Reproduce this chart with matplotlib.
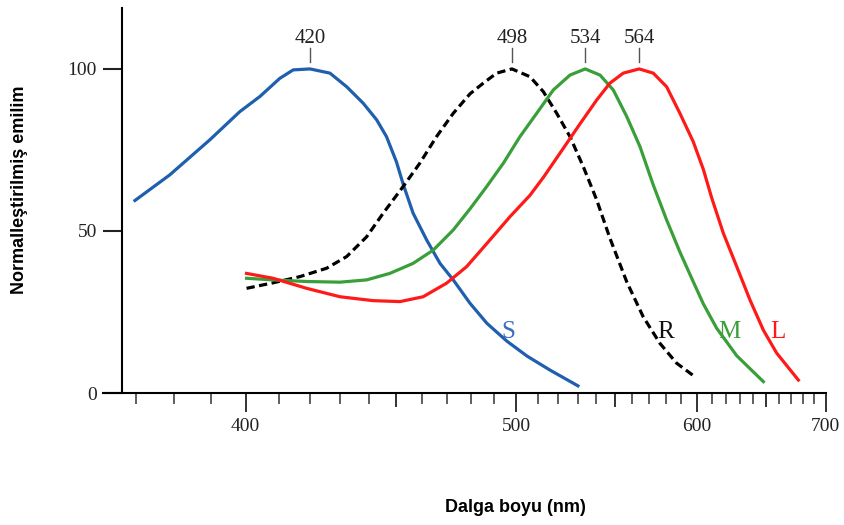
import numpy as np
import matplotlib
matplotlib.use("Agg")
import matplotlib.pyplot as plt

# S koni (mavi)
s_nm = [369.8, 378.8, 389.7, 398.3, 404.3, 410.4, 414.6, 420.0, 426.6, 432.3, 438.1,
        442.9, 446.5, 450.2, 452.7, 456.5, 461.8, 467.1, 472.5, 479.5, 486.8, 495.7,
        505.0, 516.0, 530.2]
s_val = [59.4, 67.3, 78.1, 86.8, 91.5, 97.1, 99.7, 100.0, 98.7, 94.5, 89.4,
         84.3, 79.1, 71.3, 64.5, 55.5, 47.2, 40.0, 34.9, 27.7, 21.5, 16.0,
         11.4, 7.1, 2.2]

# Rodopsin (kesikli)
r_nm = [400.3, 408.3, 416.7, 425.5, 432.3, 439.3, 445.3, 452.7, 459.1, 465.7, 472.5,
        479.5, 485.2, 491.1, 498.0, 506.4, 512.8, 519.4, 526.1, 533.0, 540.1, 547.3,
        556.8, 566.4, 576.5, 586.9, 598.8]
r_val = [32.3, 34.0, 35.9, 38.5, 42.1, 48.2, 55.5, 63.7, 70.9, 79.1, 86.3,
         92.3, 95.6, 98.7, 100.0, 97.6, 93.0, 86.3, 79.1, 69.8, 59.6, 47.8,
         34.3, 23.5, 15.3, 9.2, 5.0]

# M koni (yeşil)
m_nm = [400.3, 408.3, 418.9, 430.0, 439.3, 447.7, 456.5, 464.4, 472.5, 479.5, 486.7,
        494.1, 501.7, 509.6, 517.7, 526.1, 534.0, 541.9, 549.2, 556.8, 564.5, 572.4,
        580.6, 589.0, 597.7, 604.4, 613.5, 627.8, 647.8]
m_val = [35.4, 34.9, 34.4, 34.2, 34.9, 36.9, 40.0, 44.1, 50.3, 56.8, 63.7,
         70.9, 79.1, 86.3, 93.5, 98.1, 100.0, 98.1, 93.5, 85.3, 76.0, 64.2,
         53.4, 43.5, 34.3, 27.5, 20.0, 11.5, 3.5]

# L koni (kırmızı)
l_nm = [400.3, 408.3, 418.9, 430.0, 441.6, 451.5, 460.4, 469.8, 478.1, 488.1, 497.1,
        506.4, 512.8, 522.7, 531.2, 540.1, 547.3, 554.8, 564.0, 572.4, 580.6, 589.0,
        597.7, 604.4, 610.1, 618.2, 627.8, 637.6, 647.8, 658.3, 676.1]
l_val = [36.9, 35.4, 32.3, 29.7, 28.5, 28.2, 29.7, 33.9, 39.0, 47.2, 54.4,
         61.0, 66.5, 75.5, 83.0, 90.4, 95.6, 98.7, 100.0, 98.7, 94.5, 86.3,
         77.5, 69.0, 60.2, 49.3, 39.0, 28.7, 19.4, 12.3, 4.0]

peaks = [420, 498, 534, 564]
curve_labels = ["S", "R", "M", "L"]
label_nm = [496.2, 580.1, 622.2, 659.4]
label_y = 16.9

blue = "#1f5fae"
green = "#3a9f3a"
red = "#ff1a1a"
label_colors = ["#3a6cbf", "#111111", green, red]


def fwd(x):
    x = np.asarray(x, dtype=float)
    with np.errstate(divide="ignore"):
        return -1.0 / x


fig = plt.figure(figsize=(8.45, 5.25), dpi=100)
ax = fig.add_axes([103 / 845, 132 / 525, 722.7 / 845, 385 / 525])
ax.set_xscale("function", functions=(fwd, fwd))

lw = 2.3
ax.plot(s_nm, s_val, color=blue, lw=lw, solid_joinstyle="round")
ax.plot(r_nm, r_val, color="black", lw=lw, linestyle=(0, (2.6, 1.4)))
ax.plot(m_nm, m_val, color=green, lw=lw, solid_joinstyle="round")
ax.plot(l_nm, l_val, color=red, lw=lw, solid_joinstyle="round")

ax.set_xlim(361.9, 700)
ax.set_ylim(0, 118.8)

serif = "Liberation Serif"
for p in peaks:
    ax.plot([p, p], [102.2, 106.4], color="#555555", lw=1, clip_on=False)
    ax.text(p, 107.9, str(p), ha="center", va="baseline", fontsize=15,
            family=serif, color="#222222")

for txt, x, c in zip(curve_labels, label_nm, label_colors):
    ax.text(x, label_y, txt, ha="center", va="baseline", fontsize=18, family=serif, color=c)

# eksenler
for side in ["top", "right"]:
    ax.spines[side].set_visible(False)
ax.spines["left"].set_position(("data", 366.5))
ax.spines["left"].set_linewidth(1.5)
ax.spines["bottom"].set_linewidth(1.5)

majors = [400, 450, 500, 550, 600, 650, 700]
ax.set_xticks(majors)
ax.set_xticklabels(["400", "", "500", "", "600", "", "700"], family=serif, fontsize=14)
ax.set_xticks([v for v in range(370, 700, 10) if v not in majors], minor=True)
ax.tick_params(axis="x", which="major", length=14, width=1.3, pad=4, colors="#222222")
ax.tick_params(axis="x", which="minor", length=8, width=1.1, color="#333333")
for t, v in zip(ax.xaxis.get_major_ticks(), majors):
    if v % 100:
        t.tick1line.set_markersize(10)

ax.set_yticks([0, 50, 100])
ax.set_yticklabels(["0", "50", "100"], family=serif, fontsize=14)
ax.tick_params(axis="y", length=14, width=1.5, pad=4, colors="#222222")

fig.text(20 / 845, 1 - 190 / 525, "Normalleştirilmiş emilim", rotation=90,
         ha="center", va="center", fontsize=13, fontweight="bold",
         family="Liberation Sans")
fig.text(515 / 845, 1 - 507 / 525, "Dalga boyu (nm)", ha="center", va="center",
         fontsize=13, fontweight="bold", family="Liberation Sans")

fig.savefig("out.png", dpi=100)
